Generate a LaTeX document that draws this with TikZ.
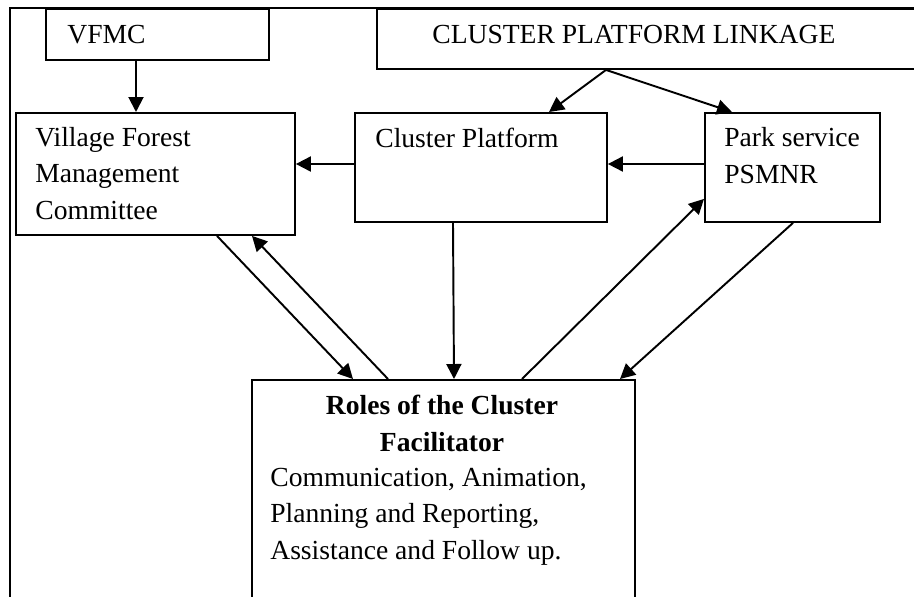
\documentclass[tikz,border=0pt]{standalone}
\usepackage{fontspec}
\setmainfont{Liberation Serif}
\usetikzlibrary{arrows.meta,calc}

\tikzset{
  box/.style={draw, line width=1.1pt, rectangle, inner sep=0pt, anchor=north west},
  txt/.style={font=\fontsize{15.7}{20.5}\selectfont, inner sep=0pt, align=left, anchor=base west},
  link/.style={line width=1.1pt, -{Triangle[length=0.3cm,width=0.3cm]}},
}

\begin{document}
\begin{tikzpicture}[x=0.02cm, y=-0.02cm]
\clip (0,0) rectangle (914,596);

% Frame
\draw[line width=1.4pt] (10,700) -- (10,8) -- (1000,8);

% Boxes
\node[box, minimum width=4.46cm, minimum height=1.02cm] (vfmc) at (45,8) {};
\node[box, minimum width=12.48cm, minimum height=1.2cm] (linkage) at (376,8) {};
\node[box, minimum width=5.58cm, minimum height=2.44cm] (vfm) at (15,112) {};
\node[box, minimum width=5.04cm, minimum height=2.18cm] (cp) at (354,112) {};
\node[box, minimum width=3.5cm, minimum height=2.18cm] (park) at (704,112) {};
\node[box, minimum width=7.66cm, minimum height=6.42cm] (roles) at (251,379) {};

% Texts (anchored on the baseline of their last line)
\node[txt] (vfmctext) at ($(vfmc.north west)+(22,35)$) {VFMC};
\node[txt] (linkagetext) at ($(linkage.north west)+(56,35)$) {CLUSTER PLATFORM LINKAGE};
\node[txt] (vfmtext) at ($(vfm.north west)+(20,107)$) {Village Forest\\Management\\Committee};
\node[txt] (cptext) at ($(cp.north west)+(21,35)$) {Cluster Platform};
\node[txt] (parktext) at ($(park.north west)+(20,71)$) {Park service\\PSMNR};
\node[txt, anchor=base, align=center, font=\fontsize{15.7}{20.5}\selectfont\bfseries] (rolestitle) at ($(roles.north west)+(191,72)$) {Roles of the Cluster\\Facilitator};
\node[txt] (rolestext) at ($(roles.north west)+(19,180)$) {Communication, Animation,\\Planning and Reporting,\\Assistance and Follow up.};

% Arrows
\coordinate (a1) at ($(vfmc.south west)+(91,0)$);
\draw[link] (a1) -- (a1 |- vfm.north);
\draw[link] ($(linkage.south west)+(230,0)$) -- ($(cp.north west)+(195,0)$);
\draw[link] ($(linkage.south west)+(230,0)$) -- ($(park.north west)+(28,0)$);
\draw[link] ($(cp.north west)+(0,52)$) -- ($(vfm.north east)+(0,52)$);
\draw[link] ($(park.north west)+(0,52)$) -- ($(cp.north east)+(0,52)$);
\draw[link] ($(vfm.south west)+(202,0)$) -- ($(roles.north west)+(102,0)$);
\draw[link] ($(roles.north west)+(137,0)$) -- ($(vfm.south west)+(237,0)$);
\draw[link] ($(cp.south west)+(99,0)$) -- ($(roles.north west)+(203,0)$);
\draw[link] ($(roles.north west)+(271,0)$) -- ($(park.south west)+(0,-24)$);
\draw[link] ($(park.south west)+(89,0)$) -- ($(roles.north west)+(369,0)$);

\end{tikzpicture}
\end{document}
